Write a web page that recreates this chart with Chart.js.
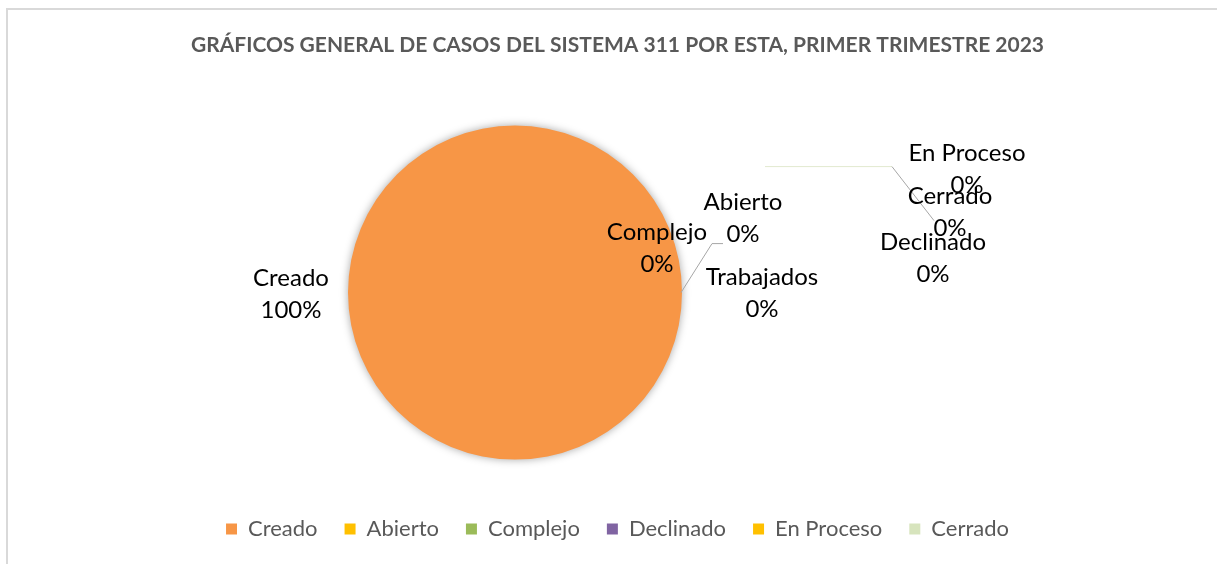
<!DOCTYPE html>
<html lang="es">
<head>
<meta charset="utf-8">
<title>Casos 311</title>
<script src="https://cdn.jsdelivr.net/npm/chart.js@4.4.1/dist/chart.umd.min.js"></script>
<style>
  body { margin: 0; background: #fff; overflow: hidden; }
  #frame {
    position: absolute; left: 6px; top: 8px;
    width: 1219px; height: 554px;
    border-left: 2px solid #d9d9d9; border-top: 2px solid #d9d9d9;
  }
  canvas { display: block; }
</style>
</head>
<body>
<div id="frame"><canvas id="pieCasos" width="1219" height="554"></canvas></div>
<script>
// Datos del grafico (primer trimestre 2023)
const categorias = ["Creado", "Abierto", "Complejo", "Declinado", "En Proceso", "Cerrado", "Trabajados"];
const casos = [100, 0, 0, 0, 0, 0, 0];
const colores = ["#F79646", "#FFC000", "#9BBB59", "#8064A2", "#FFC000", "#D7E4BD", "#4BACC6"];
const titulo = "GRÁFICOS GENERAL DE CASOS DEL SISTEMA 311 POR ESTA, PRIMER TRIMESTRE 2023";

// donde van las etiquetas (desplazamiento desde el centro del pastel, en px)
const posEtiquetas = [
  [-224, -14], [228, -90], [142, -60], [418, -50], [452, -139], [435, -96], [247, -15]
];

const total = casos.reduce((a, b) => a + b, 0);

// etiquetas de datos + lineas guia + sombra, como en Excel
const etiquetasPlugin = {
  id: "etiquetas",
  beforeDatasetsDraw(chart) {
    const ctx = chart.ctx;
    ctx.save();
    ctx.shadowColor = "rgba(0,0,0,0.35)";
    ctx.shadowBlur = 9;
  },
  afterDatasetsDraw(chart) {
    const ctx = chart.ctx;
    ctx.restore();
    const arc = chart.getDatasetMeta(0).data[0];
    const cx = arc.x, cy = arc.y;

    ctx.save();
    // lineas guia
    ctx.lineWidth = 1;
    ctx.strokeStyle = "#e2e9cf";
    ctx.beginPath();
    ctx.moveTo(cx + 250, cy - 126);
    ctx.lineTo(cx + 377, cy - 126);
    ctx.stroke();
    ctx.strokeStyle = "#a6a6a6";
    ctx.beginPath();
    ctx.moveTo(cx + 377, cy - 126);
    ctx.lineTo(cx + 419, cy - 72);
    ctx.stroke();
    ctx.beginPath();
    ctx.moveTo(cx + 166, cy);
    ctx.lineTo(cx + 197, cy - 49);
    ctx.lineTo(cx + 208, cy - 49);
    ctx.stroke();

    ctx.fillStyle = "#000";
    ctx.font = "24px Lato";
    ctx.textAlign = "center";
    ctx.textBaseline = "middle";
    categorias.forEach((cat, i) => {
      const p = posEtiquetas[i];
      const pct = Math.round((casos[i] / total) * 100) + "%";
      ctx.fillText(cat, cx + p[0], cy + p[1]);
      ctx.fillText(pct, cx + p[0], cy + p[1] + 32);
    });
    ctx.restore();
  }
};

const ctx = document.getElementById("pieCasos").getContext("2d");
const pieChart = new Chart(ctx, {
  type: "pie",
  data: {
    labels: categorias,
    datasets: [
      {
        data: casos,
        backgroundColor: colores,
        borderWidth: 0,
        radius: 167,
      },
    ],
  },
  options: {
    responsive: false,
    animation: false,
    layout: { padding: { bottom: 14 } },
    // escala invisible que solo sirve para correr el pastel a la izquierda
    scales: {
      espacio: {
        type: "linear",
        position: "right",
        display: true,
        ticks: { display: false },
        grid: { display: false },
        border: { display: false },
        afterFit: (scale) => {
          scale.width = 205;
        },
      },
    },
    plugins: {
      tooltip: { enabled: false },
      title: {
        display: true,
        text: titulo,
        color: "#595959",
        font: { family: "Lato", size: 21, weight: "bold" },
        padding: { top: 23, bottom: 36 },
      },
      legend: {
        position: "bottom",
        labels: {
          color: "#595959",
          font: { family: "Lato", size: 22 },
          boxWidth: 11,
          boxHeight: 11,
          padding: 27,
          filter: (item) => item.text !== "Trabajados",
        },
      },
    },
  },
  plugins: [etiquetasPlugin],
});
</script>
</body>
</html>
